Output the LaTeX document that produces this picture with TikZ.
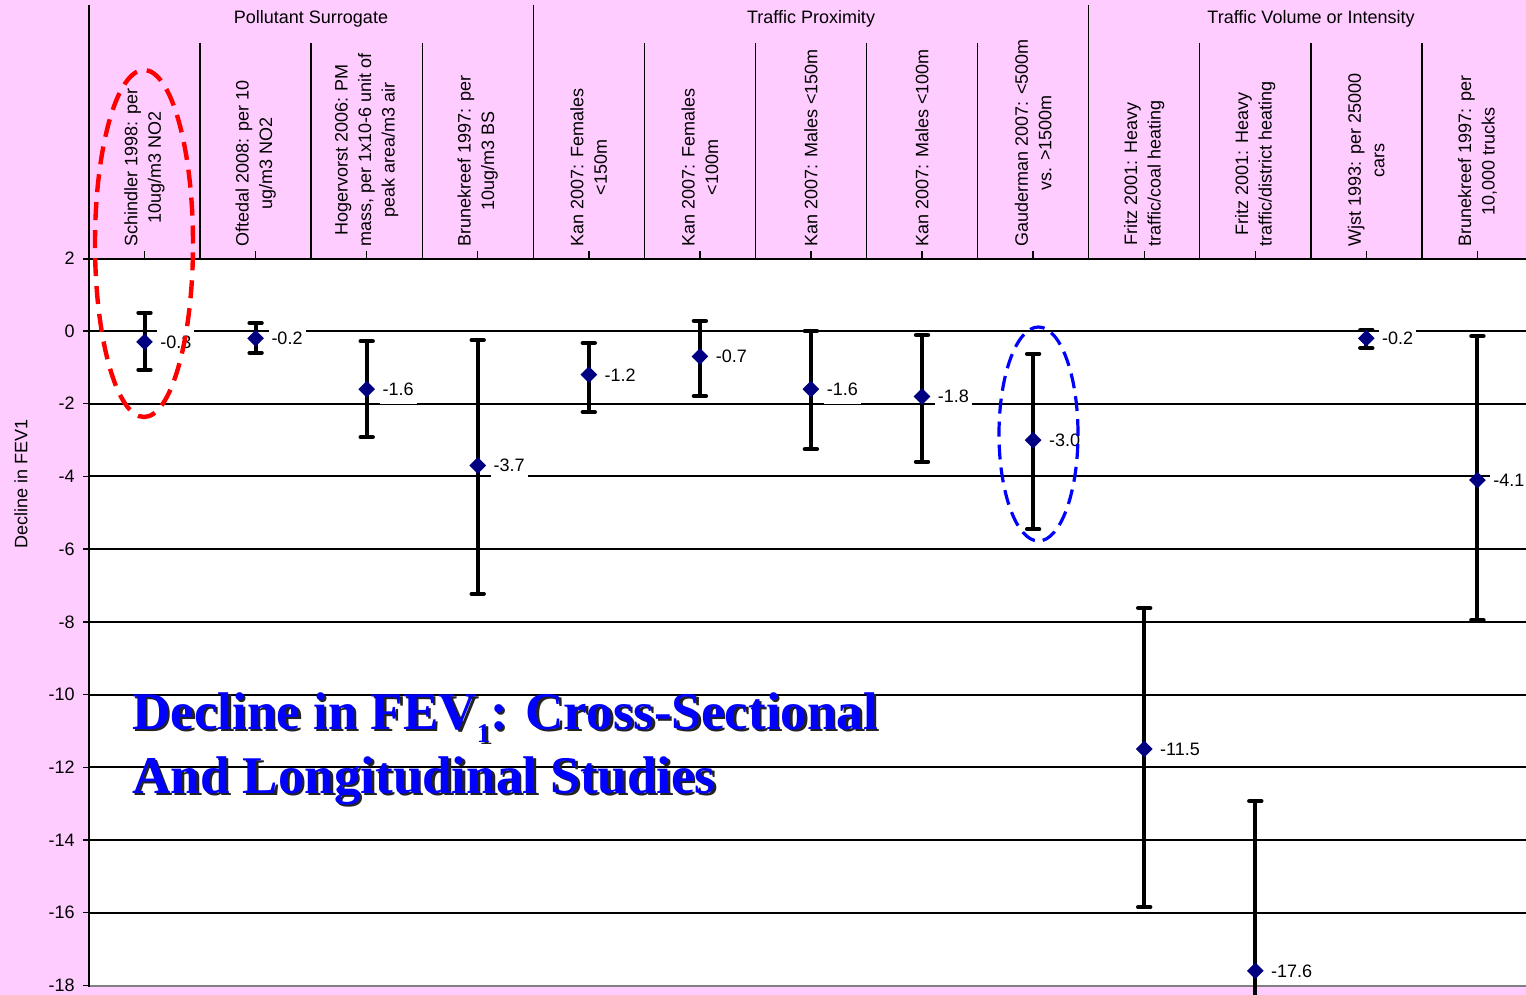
\documentclass[tikz,border=0pt]{standalone}
\usepackage{fontspec}
\setmainfont{Liberation Sans}
\newfontfamily\titlefont{Liberation Serif}
\usetikzlibrary{shapes.geometric}
\definecolor{bgpink}{RGB}{255,204,255}
\definecolor{marknavy}{RGB}{0,0,128}
\definecolor{titleblue}{RGB}{0,0,255}
\definecolor{shadowgray}{RGB}{35,35,35}
\begin{document}
\begin{tikzpicture}[x=0.5pt,y=-0.5pt,
  grid/.style={line width=1pt,black},
  sepline/.style={line width=0.7pt,black},
  ebar/.style={line width=2pt,black},
  ecap/.style={line width=2.2pt,black,line cap=round},
  mk/.style={diamond,fill=marknavy,inner sep=0pt,minimum size=8.5pt,aspect=1},
  dlab/.style={fill=white,inner xsep=1.5pt,inner ysep=4pt,anchor=west,font=\fontsize{9}{10}\selectfont,text height=6.5pt,text depth=0pt},
  collabel/.style={rotate=90,anchor=west,align=center,inner sep=0pt,font=\fontsize{9}{11.75}\selectfont},
  grouplabel/.style={inner sep=0pt,font=\fontsize{9}{10}\selectfont},
  ticklab/.style={anchor=east,inner sep=0pt,font=\fontsize{9}{10}\selectfont},
  titletext/.style={anchor=base west,inner sep=0pt,font=\titlefont\bfseries\fontsize{26.5}{31.5}\selectfont},
  ring/.style={line width=2.2pt}
]
\useasboundingbox (0,0) rectangle (1526,995);
\fill[bgpink] (0,0) rectangle (1526,995);
% plot area
\fill[white] (89,259) rectangle (1526,986);
% grid lines
\foreach \v in {0,-2,-4,-6,-8,-10,-12,-14,-16}{
  \draw[grid] (89,{331-36.35*\v}) -- (1526,{331-36.35*\v});
}
\draw[line width=1.1pt,gray] (89,986) -- (1526,986);
\draw[line width=1pt,black] (83,259) -- (1526,259);
% left axis
\draw[sepline] (89,5) -- (89,987);
\foreach \v in {2,0,-2,-4,-6,-8,-10,-12,-14,-16,-18}{
  \draw[sepline] (83,{331-36.35*\v}) -- (89,{331-36.35*\v});
  \node[ticklab] (t\v) at (75,{331-36.35*\v}) {\v};
}
\node[rotate=90,inner sep=0pt,font=\fontsize{9}{10}\selectfont] (ylab) at (21,484) {Decline in FEV1};
% header separators
\foreach \s in {533.3,1088.7}{\draw[sepline] (\s,5) -- (\s,259);}
\foreach \s in {200.1,311.1,422.2,644.4,755.4,866.5,977.6,1199.7,1310.8,1421.9}{\draw[sepline] (\s,43) -- (\s,259);}
\foreach \c in {144.5,255.6,366.7,477.7,588.8,699.9,810.9,922.0,1033.1,1144.2,1255.3,1366.3,1477.4}{\draw[sepline] (\c,251) -- (\c,259);}
% group labels
\node[grouplabel] (g1) at (311,18.5) {Pollutant Surrogate};
\node[grouplabel] (g2) at (811,18.5) {Traffic Proximity};
\node[grouplabel] (g3) at (1311,18.5) {Traffic Volume or Intensity};
% column labels
\node[collabel] (h1) at (144.5,247) {Schindler 1998: per\\10ug/m3 NO2};
\node[collabel] (h2) at (255.6,247) {Oftedal 2008: per 10\\ug/m3 NO2};
\node[collabel] (h3) at (366.7,247) {Hogervorst 2006: PM\\mass, per 1x10-6 unit of\\peak area/m3 air};
\node[collabel] (h4) at (477.7,247) {Brunekreef 1997: per\\10ug/m3 BS};
\node[collabel] (h5) at (588.8,247) {Kan 2007: Females\\<150m};
\node[collabel] (h6) at (699.9,247) {Kan 2007: Females\\<100m};
\node[collabel] (h7) at (810.9,247) {Kan 2007: Males <150m};
\node[collabel] (h8) at (922.0,247) {Kan 2007: Males <100m};
\node[collabel] (h9) at (1033.1,247) {Gauderman 2007: <500m\\vs. >1500m};
\node[collabel] (h10) at (1144.2,247) {Fritz 2001: Heavy\\traffic/coal heating};
\node[collabel] (h11) at (1255.3,247) {Fritz 2001: Heavy\\traffic/district heating};
\node[collabel] (h12) at (1366.3,247) {Wjst 1993: per 25000\\cars};
\node[collabel] (h13) at (1477.4,247) {Brunekreef 1997: per\\10,000 trucks};
% data
\foreach \i/\x/\v/\lo/\hi/\lab in {
  1/144.5/-0.3/-1.07/0.5/{-0.3},
  2/255.6/-0.2/-0.6/0.22/{-0.2},
  3/366.7/-1.6/-2.92/-0.28/{-1.6},
  4/477.7/-3.7/-7.23/-0.25/{-3.7},
  5/588.8/-1.2/-2.23/-0.33/{-1.2},
  6/699.9/-0.7/-1.79/0.28/{-0.7},
  7/810.9/-1.6/-3.25/0.0/{-1.6},
  8/922.0/-1.8/-3.6/-0.11/{-1.8},
  9/1033.1/-3.0/-5.45/-0.63/{-3.0},
  10/1144.2/-11.5/-15.85/-7.62/{-11.5},
  11/1255.3/-17.6/-19.2/-12.93/{-17.6},
  12/1366.3/-0.2/-0.47/0.03/{-0.2},
  13/1477.4/-4.1/-7.95/-0.14/{-4.1}}{
  \pgfmathsetmacro\ym{331-36.35*\v}
  \pgfmathsetmacro\yl{331-36.35*\lo}
  \pgfmathsetmacro\yh{331-36.35*\hi}
  \draw[ebar] (\x,\yl) -- (\x,\yh);
  \draw[ecap] (\x-6,\yh) -- (\x+6,\yh);
  \draw[ecap] (\x-6,\yl) -- (\x+6,\yl);
  \node[mk] (m\i) at (\x,\ym) {};
  \node[dlab] (l\i) at (\x+12.5,\ym) {\lab};
}
% title with shadow
\node[titletext,text=shadowgray] (s1) at (134.5,731.5) {Decline in FEV\raisebox{-6.5pt}{\fontsize{13.5}{13.5}\selectfont 1}: Cross-Sectional};
\node[titletext,text=shadowgray] (s2) at (134.5,795.5) {And Longitudinal Studies};
\node[titletext,text=titleblue] (ti1) at (132,729) {Decline in FEV\raisebox{-6.5pt}{\fontsize{13.5}{13.5}\selectfont 1}: Cross-Sectional};
\node[titletext,text=titleblue] (ti2) at (132,793) {And Longitudinal Studies};
% highlight ellipses
\draw[ring,red,dash pattern=on 9pt off 5pt] (144,243.5) ellipse [x radius=24.5pt, y radius=86.75pt];
\draw[ring,blue,line width=1.6pt,dash pattern=on 7.5pt off 4pt] (1038.5,434) ellipse [x radius=19.75pt, y radius=53.5pt];
\end{tikzpicture}
\end{document}
